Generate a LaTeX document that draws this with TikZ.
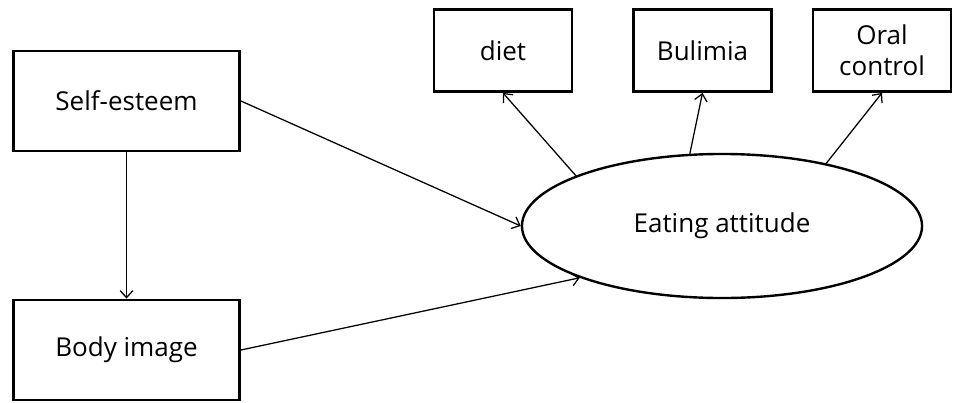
\documentclass[tikz,border=0pt]{standalone}
\usepackage{fontspec}
\setmainfont{Open Sans}
\usetikzlibrary{shapes.geometric,arrows.meta}

\tikzset{
  caja/.style={draw, line width=2pt, minimum width=5.65cm, minimum height=2.5cm,
    inner sep=2pt, font=\fontsize{18.5}{22}\selectfont, align=center},
  cajita/.style={caja, minimum width=3.45cm, minimum height=2.05cm},
  latente/.style={draw, ellipse, line width=1.7pt, minimum width=10cm,
    minimum height=3.6cm, inner sep=0pt, font=\fontsize{18.5}{22}\selectfont},
  flecha/.style={line width=0.9pt, -{Straight Barb[length=5pt,width=9pt]}}
}

\begin{document}
\begin{tikzpicture}[x=0.025cm, y=-0.025cm]
\useasboundingbox (0,0) rectangle (959,402);

% Variables observadas
\node[caja] (selfesteem) at (126.5,101) {Self-esteem};
\node[caja] (bodyimage) at (126.5,350) {Body image};

% Indicadores
\node[cajita] (diet) at (503,50.5) {diet};
\node[cajita] (bulimia) at (702.5,50.5) {Bulimia};
\node[cajita] (oral) at (882,50.5) {Oral\\control};

% Variable latente
\node[latente] (eating) at (722,226) {Eating attitude};

% Caminos
\draw[flecha] (selfesteem.south) -- (bodyimage.north);
\draw[flecha] (selfesteem.east) -- (eating.180);
\draw[flecha] (bodyimage.east) -- (eating.200);

% Cargas
\draw[flecha] (eating.161) -- (diet.south);
\draw[flecha] (eating.114) -- (bulimia.south);
\draw[flecha] (eating.31) -- (oral.south);
\end{tikzpicture}
\end{document}
